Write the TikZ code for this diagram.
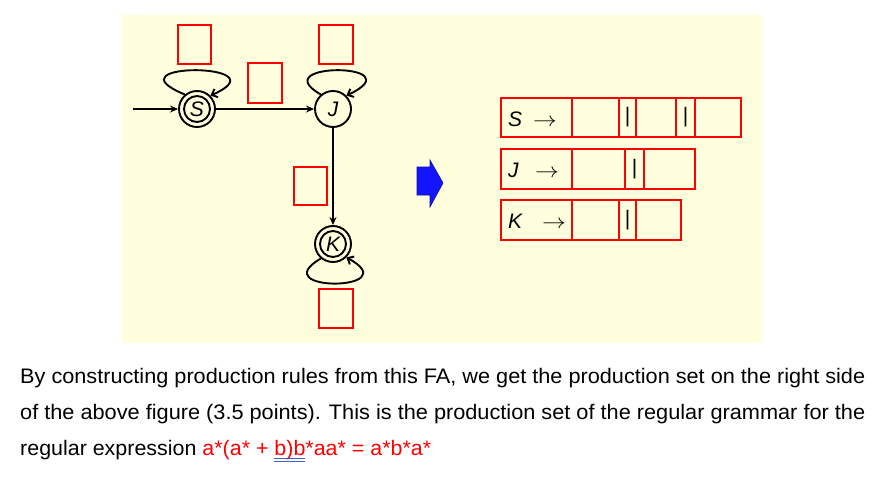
\documentclass[tikz,border=0pt]{standalone}
\usepackage{fontspec}
\setmainfont{Liberation Sans}
\usetikzlibrary{arrows.meta}
\definecolor{bgyellow}{RGB}{255,255,221}
\definecolor{pureRed}{RGB}{255,0,0}
\definecolor{pureBlue}{RGB}{20,20,255}
\definecolor{spellBlue}{RGB}{70,90,200}
\begin{document}
\begin{tikzpicture}[x=1pt,y=-1pt,
  state/.style={circle,draw=black,line width=1.9pt,minimum size=36pt,inner sep=0pt,
    font=\fontsize{21pt}{21pt}\selectfont\itshape},
  innerc/.style={circle,draw=black,line width=1.9pt,minimum size=26pt,inner sep=0pt},
  arr/.style={line width=1.9pt,-{Stealth[length=8pt,width=7pt]}},
  looparr/.style={line width=1.9pt,-{Straight Barb[length=5pt,width=9pt]}},
  redbox/.style={draw=pureRed,line width=2.2pt,inner sep=0pt},
  cell/.style={draw=pureRed,line width=2pt,inner sep=0pt,anchor=north west,minimum height=39pt},
  lbl/.style={inner sep=0pt,font=\fontsize{21pt}{21pt}\selectfont},
  barlbl/.style={inner sep=0pt,font=\fontsize{21pt}{21pt}\selectfont},
  body/.style={inner sep=0pt,anchor=base west,font=\fontsize{21pt}{25pt}\selectfont}]
\useasboundingbox (0,0) rectangle (874,476);
\fill[white] (0,0) rectangle (874,476);
\fill[bgyellow] (122,15) rectangle (762,343);
% states
\node[state] (S) at (197,109) {S};
\node[innerc] (Sin) at (S) {};
\node[state] (J) at (333,109) {J};
\node[state] (K) at (333,244) {K};
\node[innerc] (Kin) at (K) {};
\coordinate (start) at (133,109);
\draw[arr] (start) -- (S);
\draw[arr] (S) -- (J);
\draw[arr] (J) -- (K);
% loops
\draw[looparr] (S.130) .. controls +(-80,-33) and +(75,-33) .. (S.45);
\draw[looparr] (J.130) .. controls +(-58,-33) and +(70,-33) .. (J.45);
\draw[looparr] (K.230) .. controls +(-58,34) and +(62,34) .. (K.315);
% label boxes
\node[redbox,minimum width=33pt,minimum height=39pt] (bS) at (194.5,44.5) {};
\node[redbox,minimum width=34pt,minimum height=40pt] (bSJ) at (265,83) {};
\node[redbox,minimum width=34pt,minimum height=39pt] (bJ) at (336,44.5) {};
\node[redbox,minimum width=33pt,minimum height=38pt] (bJK) at (310.5,186) {};
\node[redbox,minimum width=34pt,minimum height=39pt] (bK) at (336,308.5) {};
% blue arrow
\draw[fill=pureBlue,draw=pureBlue!70!black,line width=0.6pt]
  (417,167) -- (430,167) -- (430,160) -- (443,183) -- (430,207) -- (430,195) -- (417,195) -- cycle;
% S row
\node[cell,minimum width=71pt] (s1) at (500,97) {};
\node[cell,minimum width=47pt] (s2) at (571,97) {};
\node[cell,minimum width=17pt] (s3) at (618,97) {};
\node[cell,minimum width=40pt] (s4) at (635,97) {};
\node[cell,minimum width=19pt] (s5) at (675,97) {};
\node[cell,minimum width=46pt] (s6) at (694,97) {};
% J row
\node[cell,minimum width=71pt,minimum height=40pt] (j1) at (500,148) {};
\node[cell,minimum width=53pt,minimum height=40pt] (j2) at (571,148) {};
\node[cell,minimum width=19pt,minimum height=40pt] (j3) at (624,148) {};
\node[cell,minimum width=51pt,minimum height=40pt] (j4) at (643,148) {};
% K row
\node[cell,minimum width=71pt,minimum height=40pt] (k1) at (500,199) {};
\node[cell,minimum width=47pt,minimum height=40pt] (k2) at (571,199) {};
\node[cell,minimum width=17pt,minimum height=40pt] (k3) at (618,199) {};
\node[cell,minimum width=45pt,minimum height=40pt] (k4) at (635,199) {};
% row labels
\node[lbl,anchor=base west] (sL) at (508,126) {\textit{S}};
\node[lbl,anchor=base west] (sA) at (533,126) {\scalebox{1.15}[1]{$\rightarrow$}};
\node[lbl,anchor=base west] (jL) at (508,177) {\textit{J}};
\node[lbl,anchor=base west] (jA) at (535,177) {\scalebox{1.15}[1]{$\rightarrow$}};
\node[lbl,anchor=base west] (kL) at (508,228) {\textit{K}};
\node[lbl,anchor=base west] (kA) at (542,228) {\scalebox{1.15}[1]{$\rightarrow$}};
% bars
\node[barlbl] (sb1) at (s3.center) {|};
\node[barlbl] (sb2) at (s5.center) {|};
\node[barlbl] (jb1) at (j3.center) {|};
\node[barlbl] (kb1) at (k3.center) {|};
% body text
\node[body] (t1) at (20,383) {\resizebox{845pt}{\height}{By constructing production rules from this FA, we get the production set on the right side}};
\node[body] (t2) at (20,419) {\resizebox{845pt}{\height}{of the above figure (3.5 points). This is the production set of the regular grammar for the}};
\node[body] (t3) at (20,455) {\resizebox{411pt}{\height}{regular expression \textcolor{pureRed}{a*(a* + b)b*aa* = a*b*a*}}};
\draw[spellBlue,line width=0.9pt] (274,458.5) -- (305,458.5);
\draw[spellBlue,line width=0.9pt] (274,461.5) -- (305,461.5);
\end{tikzpicture}
\end{document}
